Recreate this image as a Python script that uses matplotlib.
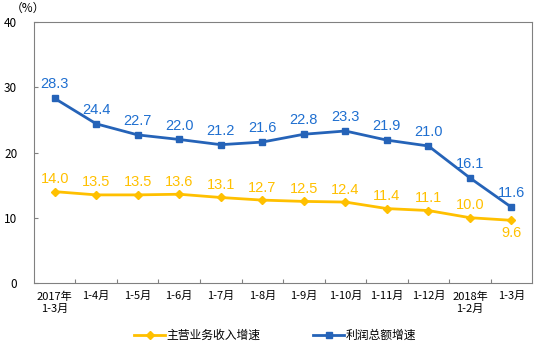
import matplotlib
matplotlib.use("Agg")
import matplotlib.pyplot as plt
from matplotlib.lines import Line2D

plt.rcParams['font.family'] = ['Noto Sans CJK SC', 'DejaVu Sans']

categories = ["2017年\n1-3月", "1-4月", "1-5月", "1-6月", "1-7月", "1-8月",
              "1-9月", "1-10月", "1-11月", "1-12月", "2018年\n1-2月", "1-3月"]
revenue = [14.0, 13.5, 13.5, 13.6, 13.1, 12.7, 12.5, 12.4, 11.4, 11.1, 10.0, 9.6]
profit = [28.3, 24.4, 22.7, 22.0, 21.2, 21.6, 22.8, 23.3, 21.9, 21.0, 16.1, 11.6]

orange = "#FFC000"
blue = "#2563B8"
label_blue = "#1F6FD0"

fig = plt.figure(figsize=(5.47, 3.51), dpi=100)
ax = fig.add_axes([0.062, 0.194, 0.911, 0.743])

x = list(range(len(categories)))
ax.plot(x, revenue, color=orange, lw=2, marker="D", ms=4.5)
ax.plot(x, profit, color=blue, lw=2, marker="s", ms=4.5)

for i, v in enumerate(profit):
    ax.annotate(f"{v:.1f}", (i, v), xytext=(0, 5), textcoords="offset points",
                ha="center", va="bottom", color=label_blue, fontsize=10.5,
                family="Liberation Sans")
for i, v in enumerate(revenue):
    off, va = (4, "bottom") if i < len(revenue) - 1 else (-4, "top")
    ax.annotate(f"{v:.1f}", (i, v), xytext=(0, off), textcoords="offset points",
                ha="center", va=va, color=orange, fontsize=10.5,
                family="Liberation Sans")

ax.set_xlim(-0.5, len(categories) - 0.5)
ax.set_ylim(0, 40)
ax.set_yticks([0, 10, 20, 30, 40])
ax.tick_params(axis="y", direction="in", length=3, color="#808080",
               labelsize=8.5, pad=12)
ax.set_xticks([i + 0.5 for i in range(len(categories) - 1)], minor=False)
ax.set_xticklabels([])
ax.tick_params(axis="x", direction="in", length=3, color="#808080")
ax.set_xticks(x, minor=True)
ax.set_xticklabels(categories, minor=True, fontsize=8, linespacing=1.3)
ax.tick_params(axis="x", which="minor", length=0, pad=6)
for s in ax.spines.values():
    s.set_color("#808080")
    s.set_linewidth(0.8)

fig.text(0.02, 0.975, "（%）", fontsize=8.5, ha="left", va="center")

handles = [Line2D([], [], color=orange, lw=2, marker="D", ms=4),
           Line2D([], [], color=blue, lw=2, marker="s", ms=4)]
fig.legend(handles, ["主营业务收入增速", "利润总额增速"], loc="center",
           bbox_to_anchor=(0.503, 0.045), ncol=2, frameon=False, fontsize=8.5,
           handlelength=2.6, handletextpad=0.1, columnspacing=4.5)

fig.savefig("out.png", dpi=100)
